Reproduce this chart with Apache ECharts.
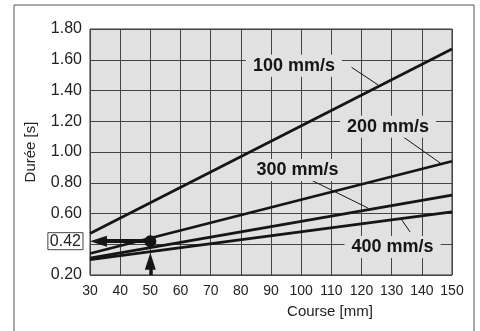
<!DOCTYPE html>
<html>
<head>
<meta charset="utf-8">
<script src="https://cdn.jsdelivr.net/npm/echarts@6/dist/echarts.min.js"></script>
<style>
  html, body { margin: 0; padding: 0; background: #fff; }
  #chart { width: 480px; height: 331px; }
</style>
</head>
<body>
<div id="chart"></div>
<script>
// course [mm] at both ends of each line
const courseRange = [30, 150]
// durée [s] read at course 30 and 150
const speeds = ['100 mm/s', '200 mm/s', '300 mm/s', '400 mm/s']
const dureeAt30 = [0.47, 0.34, 0.31, 0.30]
const dureeAt150 = [1.67, 0.94, 0.72, 0.61]
// example reading: 50 mm -> 0.42 s
const readCourse = 50
const readDuree = 0.42

const chart = echarts.init(document.getElementById('chart'))

const plotBg = '#e1e1e1'
const ink = '#151515'

// label anchor (data coords) and leader line for each speed
const annot = [
  { at: [97.6, 1.561], leader: [[116.7, 1.551], [125.5, 1.436]] },
  { at: [128.8, 1.165], leader: [[133.4, 1.104], [146.2, 0.927]] },
  { at: [98.8, 0.883], leader: [[101.9, 0.831], [122.1, 0.636]] },
  { at: [130.3, 0.382], leader: [[133.3, 0.560], [136.1, 0.480]] }
]

const lineSeries = speeds.map((name, i) => ({
  name,
  type: 'line',
  showSymbol: false,
  silent: true,
  z: 3,
  lineStyle: { color: ink, width: 2.7 },
  data: [[courseRange[0], dureeAt30[i]], [courseRange[1], dureeAt150[i]]],
  markPoint: {
    symbol: 'rect',
    symbolSize: 0,
    data: [{ coord: annot[i].at, value: name }],
    label: {
      show: true,
      formatter: name,
      color: ink,
      fontFamily: 'Liberation Sans',
      fontWeight: 'bold',
      fontSize: 18,
      backgroundColor: plotBg,
      padding: [2, 7]
    }
  },
  markLine: {
    silent: true,
    symbol: ['none', 'none'],
    lineStyle: { color: ink, width: 1, type: 'solid' },
    label: { show: false },
    data: [[{ coord: annot[i].leader[0] }, { coord: annot[i].leader[1] }]]
  }
}))

const option = {
  animation: false,
  backgroundColor: '#fff',
  textStyle: { fontFamily: 'Liberation Sans' },
  grid: {
    left: 90, right: 28, top: 29, bottom: 56,
    show: true,
    backgroundColor: plotBg,
    borderColor: '#333',
    borderWidth: 1
  },
  graphic: [{
    type: 'rect',
    shape: { x: 14, y: 5, width: 460, height: 340 },
    style: { fill: 'none', stroke: '#555', lineWidth: 1 },
    silent: true
  }],
  xAxis: {
    type: 'value',
    min: 30, max: 150, interval: 10,
    name: 'Course [mm]',
    nameLocation: 'middle',
    nameGap: 29,
    nameTextStyle: { fontSize: 15, color: '#222', padding: [0, 0, 0, 118] },
    axisLine: { show: false },
    axisTick: { show: false },
    axisLabel: { fontSize: 14, color: '#222', margin: 9 },
    splitLine: { lineStyle: { color: '#444', width: 1 } }
  },
  yAxis: {
    type: 'value',
    min: 0.2, max: 1.8, interval: 0.2,
    name: 'Durée [s]',
    nameLocation: 'middle',
    nameGap: 52,
    nameTextStyle: { fontSize: 15, color: '#222' },
    axisLine: { show: false },
    axisTick: { show: false },
    axisLabel: {
      fontSize: 16, color: '#222', margin: 8,
      formatter: v => Math.abs(v - 0.4) < 1e-6 ? '' : v.toFixed(2)
    },
    splitLine: { lineStyle: { color: '#444', width: 1 } }
  },
  series: [
    ...lineSeries,
    {
      // arrows showing the reading
      type: 'line',
      data: [],
      silent: true,
      markLine: {
        silent: true,
        symbol: ['none', 'triangle'],
        symbolSize: [11, 17],
        label: { show: false },
        lineStyle: { color: ink, width: 4, type: 'solid', opacity: 1 },
        data: [
          [{ coord: [readCourse, readDuree] }, { coord: [courseRange[0] + 2.8, readDuree] }],
          [{ coord: [readCourse, 0.2], lineStyle: { width: 3.5 } }, { coord: [readCourse, 0.29], lineStyle: { width: 3.5 } }]
        ]
      },
      z: 4
    },
    {
      type: 'scatter',
      silent: true,
      z: 5,
      symbolSize: 12,
      itemStyle: { color: ink, opacity: 1 },
      data: [[readCourse, readDuree]]
    },
    {
      // boxed value on the axis
      type: 'scatter',
      silent: true,
      symbolSize: 0,
      itemStyle: { opacity: 1 },
      data: [[courseRange[0], readDuree]],
      label: {
        show: true,
        position: 'left',
        distance: 7,
        formatter: readDuree.toFixed(2),
        fontSize: 16,
        color: '#222',
        opacity: 1,
        borderColor: '#444',
        borderWidth: 1,
        padding: [1, 2, 0, 2]
      }
    }
  ]
}

chart.setOption(option)
</script>
</body>
</html>
